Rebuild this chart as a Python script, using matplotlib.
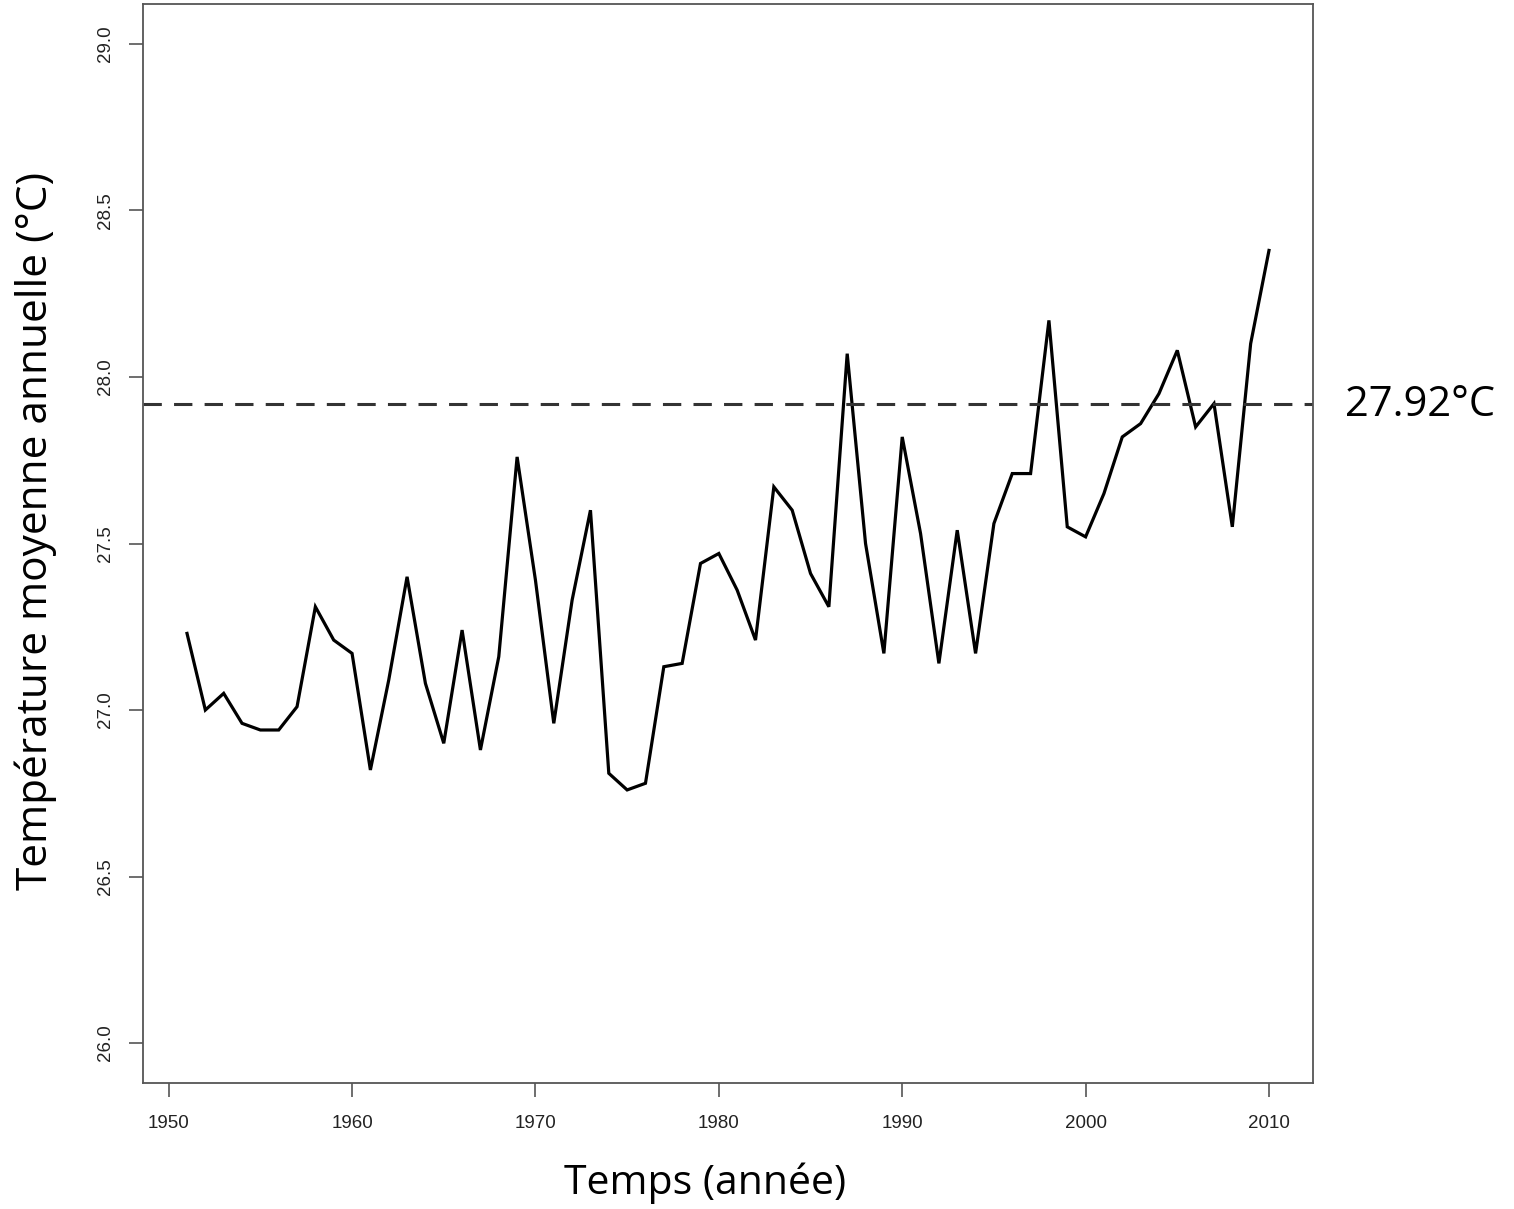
import matplotlib
matplotlib.use("Agg")
import matplotlib.pyplot as plt

# Annual mean temperature series
years = list(range(1951, 2011))
temps = [
    27.23, 27.00, 27.05, 26.96, 26.94, 26.94, 27.01, 27.31, 27.21, 27.17,
    26.82, 27.09, 27.40, 27.08, 26.90, 27.24, 26.88, 27.16, 27.76, 27.39,
    26.96, 27.33, 27.60, 26.81, 26.76, 26.78, 27.13, 27.14, 27.44, 27.47,
    27.36, 27.21, 27.67, 27.60, 27.41, 27.31, 28.07, 27.50, 27.17, 27.82,
    27.53, 27.14, 27.54, 27.17, 27.56, 27.71, 27.71, 28.17, 27.55, 27.52,
    27.65, 27.82, 27.86, 27.95, 28.08, 27.85, 27.92, 27.55, 28.10, 28.38,
]
mean_line = 27.92
x_ticks = [1950, 1960, 1970, 1980, 1990, 2000, 2010]
y_ticks = [26.0, 26.5, 27.0, 27.5, 28.0, 28.5, 29.0]

W, H = 1514, 1209
fig = plt.figure(figsize=(W / 100, H / 100), dpi=100)
ax = fig.add_axes([143 / W, 1 - 1083 / H, (1313 - 143) / W, (1083 - 4) / H])

ax.plot(years, temps, color="black", linewidth=2.3, solid_joinstyle="miter")
ax.axhline(mean_line, color="#333333", linewidth=2.2, dashes=(6, 4))

ax.set_xlim(1948.6, 2012.4)
ax.set_ylim(25.88, 29.12)
ax.set_xticks(x_ticks)
ax.set_yticks(y_ticks)
ax.set_xticklabels([str(v) for v in x_ticks], fontsize=13.5, family="Liberation Sans", color="#222222")
ax.set_yticklabels([f"{v:.1f}" for v in y_ticks], fontsize=13.5, family="Liberation Sans",
                   rotation=90, va="center", color="#222222")
ax.tick_params(axis="both", direction="out", length=10, width=1.2, color="#555555")
ax.tick_params(axis="x", pad=13)
ax.tick_params(axis="y", pad=11)
for s in ax.spines.values():
    s.set_color("#555555")
    s.set_linewidth(1.3)

fig.text(705 / W, 1 - 1183 / H, "Temps (année)", ha="center", va="center",
         fontsize=29.5, family="Open Sans", color="black")
fig.text(36 / W, 1 - 531 / H, "Température moyenne annuelle (°C)", ha="center", va="center",
         rotation=90, fontsize=30.5, family="Open Sans", color="black")
fig.text(1420 / W, 1 - 405 / H, "27.92°C", ha="center", va="center",
         fontsize=30, family="Open Sans", color="black")

fig.savefig("out.png", dpi=100, facecolor="white")
